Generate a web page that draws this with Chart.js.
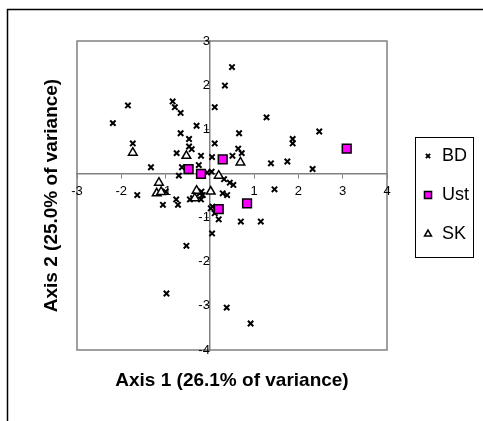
<!DOCTYPE html>
<html>
<head>
<meta charset="utf-8">
<script src="https://cdn.jsdelivr.net/npm/chart.js@4.4.1/dist/chart.umd.min.js"></script>
<style>
  html, body { margin: 0; padding: 0; background: #fff; }
  #wrap { width: 483px; height: 421px; }
</style>
</head>
<body>
<div id="wrap"><canvas id="pca-chart" width="483" height="421"></canvas></div>
<script>
// axis ticks
const xTicks = [-3, -2, -1, 0, 1, 2, 3, 4];
const yTicks = [-4, -3, -2, -1, 0, 1, 2, 3];

const seriesNames = ['BD', 'Ust', 'SK'];

// [axis 1, axis 2] scores
const bdPoints = [
  [0.50, 2.41], [0.34, 1.99], [-1.85, 1.54], [-0.84, 1.63], [-0.79, 1.50],
  [-0.66, 1.37], [0.11, 1.50], [-2.19, 1.14], [-0.30, 1.08], [-0.66, 0.91],
  [0.66, 0.91], [-1.74, 0.68], [-0.47, 0.78], [-0.47, 0.61], [-0.41, 0.55],
  [0.11, 0.68], [0.64, 0.56], [0.72, 0.46], [-0.75, 0.46], [-0.20, 0.40],
  [0.05, 0.37], [0.51, 0.40], [-1.33, 0.14], [-0.63, 0.14], [-0.70, -0.05],
  [-0.25, 0.19], [0.04, 0.04], [1.28, 1.27], [2.47, 0.95], [1.87, 0.78],
  [1.87, 0.68], [1.38, 0.23], [1.75, 0.27], [2.32, 0.10], [-1.64, -0.49],
  [-1.06, -0.71], [-0.72, -0.71], [-0.76, -0.59], [-1.00, -0.41], [-0.45, -0.59],
  [-0.20, -0.59], [0.29, -0.45], [0.39, -0.49], [0.32, -0.13], [0.45, -0.21],
  [0.53, -0.26], [0.02, -0.79], [0.11, -0.90], [0.20, -1.04], [0.70, -1.09],
  [0.05, -1.36], [-0.53, -1.64], [-0.98, -2.72], [0.38, -3.04], [0.92, -3.40],
  [1.46, -0.36], [1.15, -1.09], [-0.06, 0.02], [-0.19, -0.41], [-0.23, -0.45],
  [-0.16, -0.49], [-0.38, -0.56], [0.06, -0.75]
];
const ustPoints = [
  [0.29, 0.32], [-0.48, 0.10], [-0.20, -0.01], [3.09, 0.56], [0.20, -0.81], [0.84, -0.68]
];
const skPoints = [
  [-1.74, 0.47], [-0.53, 0.40], [0.69, 0.25], [0.20, -0.05], [-1.15, -0.21],
  [-1.20, -0.45], [-1.10, -0.42], [-0.30, -0.39], [-0.34, -0.56], [0.02, -0.41]
];

const xTitle = 'Axis 1 (26.1% of variance)';
const yTitle = 'Axis 2 (25.0% of variance)';

function toXY(list) {
  return list.map(function(p) { return {x: p[0], y: p[1]}; });
}

const FONT = 'Arial, "Liberation Sans", sans-serif';

const datasets = [
  {
    label: seriesNames[0],
    data: toXY(bdPoints),
    pointStyle: 'crossRot',
    pointRadius: 3.8,
    borderWidth: 2,
    borderColor: '#000',
    backgroundColor: '#000',
    order: 3
  },
  {
    label: seriesNames[1],
    data: toXY(ustPoints),
    pointStyle: 'rect',
    pointRadius: 6.2,
    borderWidth: 1.5,
    borderColor: '#000',
    backgroundColor: '#ff00ff',
    order: 2
  },
  {
    label: seriesNames[2],
    data: toXY(skPoints),
    pointStyle: 'triangle',
    pointRadius: 5,
    borderWidth: 1.5,
    borderColor: '#000',
    backgroundColor: '#fff',
    order: 1
  }
];

// frame, axis titles and boxed legend
const decorations = {
  id: 'decorations',
  beforeDraw(chart) {
    const ctx = chart.ctx;
    const a = chart.chartArea;
    ctx.save();
    ctx.fillStyle = '#fff';
    ctx.fillRect(0, 0, chart.width, chart.height);
    ctx.strokeStyle = '#000';
    ctx.lineWidth = 1.5;
    ctx.strokeRect(7.5, 9.5, 700, 700);
    ctx.strokeStyle = '#808080';
    ctx.lineWidth = 1.5;
    ctx.strokeRect(a.left, a.top, a.right - a.left, a.bottom - a.top);
    ctx.restore();
  },
  afterDraw(chart) {
    const ctx = chart.ctx;
    const a = chart.chartArea;
    ctx.save();
    ctx.fillStyle = '#000';
    ctx.font = 'bold 19px ' + FONT;
    ctx.textAlign = 'center';
    ctx.textBaseline = 'middle';
    ctx.fillText(xTitle, (a.left + a.right) / 2, 381);
    ctx.translate(52, (a.top + a.bottom) / 2);
    ctx.rotate(-Math.PI / 2);
    ctx.fillText(yTitle, 0, 0);
    ctx.restore();

    // legend
    ctx.save();
    ctx.strokeStyle = '#000';
    ctx.lineWidth = 1;
    ctx.strokeRect(415.5, 137.5, 58, 120);
    ctx.font = '18px ' + FONT;
    ctx.textBaseline = 'middle';
    ctx.textAlign = 'left';
    chart.data.datasets.forEach(function(ds, i) {
      const y = 156 + i * 39;
      ctx.fillStyle = ds.backgroundColor;
      ctx.strokeStyle = ds.borderColor;
      ctx.lineWidth = ds.borderWidth;
      Chart.helpers.drawPoint(ctx, {
        pointStyle: ds.pointStyle,
        radius: ds.pointStyle === 'rect' ? 5 : (ds.pointStyle === 'triangle' ? 4 : 3),
        borderWidth: ds.borderWidth,
        rotation: 0
      }, 428, y);
      ctx.fillStyle = '#000';
      ctx.fillText(ds.label, 442, y);
    });
    ctx.restore();
  }
};

const config = {
  type: 'scatter',
  data: { datasets: datasets },
  options: {
    responsive: false,
    animation: false,
    layout: { padding: { left: 77, top: 41, right: 96, bottom: 71 } },
    plugins: {
      legend: { display: false },
      tooltip: { enabled: false }
    },
    scales: {
      x: {
        type: 'linear',
        position: { y: 0 },
        min: xTicks[0],
        max: xTicks[xTicks.length - 1],
        afterBuildTicks(scale) { scale.ticks = xTicks.map(v => ({value: v})); },
        grid: { drawOnChartArea: false, drawTicks: true, tickLength: 4, color: '#808080' },
        border: { display: true, color: '#808080', width: 1.5 },
        ticks: {
          color: '#000',
          font: { family: FONT, size: 13 },
          padding: 6,
          maxRotation: 0,
          autoSkip: false,
          callback: v => (v === 0 ? '' : String(v))
        }
      },
      y: {
        type: 'linear',
        position: { x: 0 },
        min: yTicks[0],
        max: yTicks[yTicks.length - 1],
        afterBuildTicks(scale) { scale.ticks = yTicks.map(v => ({value: v})); },
        grid: { drawOnChartArea: false, drawTicks: true, tickLength: 4, color: '#808080' },
        border: { display: true, color: '#808080', width: 1.5 },
        ticks: {
          color: '#000',
          font: { family: FONT, size: 13 },
          padding: 7,
          autoSkip: false,
          callback: v => (v === 0 ? '' : String(v))
        }
      }
    }
  },
  plugins: [decorations]
};

window.onload = function() {
  var ctx = document.getElementById('pca-chart').getContext('2d');
  window.pcaChart = new Chart(ctx, config);
};
</script>
</body>
</html>
